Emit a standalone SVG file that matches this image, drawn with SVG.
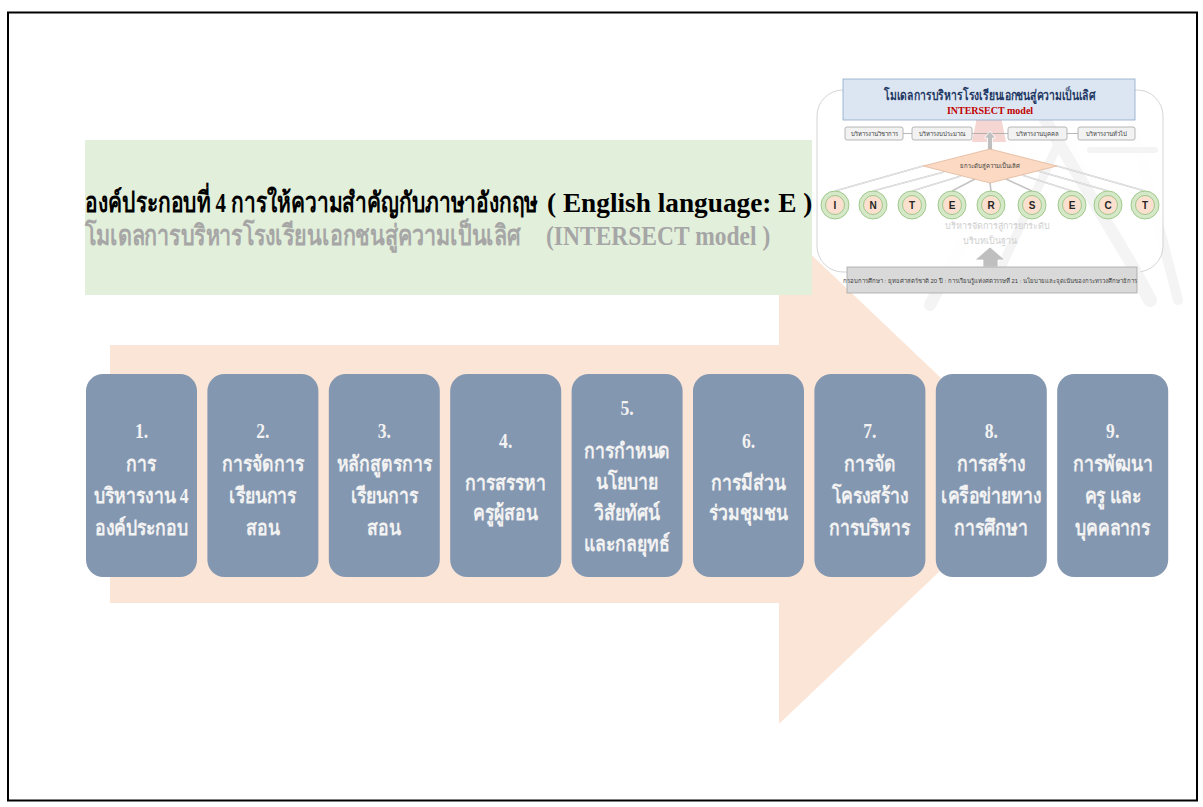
<svg xmlns="http://www.w3.org/2000/svg" width="1203" height="807" viewBox="0 0 1203 807">
  <style>
    .frame { fill: #ffffff; stroke: #000000; stroke-width: 2; }
    .band { fill: #e2efda; }
    .flow { fill: #fbe5d6; }
    .step rect { fill: #8497b0; }
    .step text { font-family: "Liberation Serif", "DejaVu Serif", serif; font-weight: bold; font-size: 21px; fill: #f2f2f2; text-anchor: middle; }
    .h1 { font-family: "Liberation Serif", "DejaVu Serif", serif; font-weight: bold; font-size: 28px; fill: #000000; }
    .h2 { font-family: "Liberation Serif", "DejaVu Serif", serif; font-weight: bold; font-size: 28px; fill: #a6a6a6; }
    .m-title { font-family: "Liberation Serif", "DejaVu Serif", serif; font-weight: bold; font-size: 14px; fill: #1f3864; text-anchor: middle; }
    .m-red { font-family: "Liberation Serif", serif; font-weight: bold; font-size: 10px; fill: #c00000; text-anchor: middle; }
    .m-box { fill: #f2f2f2; stroke: #a6a6a6; stroke-width: 0.8; }
    .m-lbl { font-family: "Liberation Sans", "DejaVu Sans", sans-serif; font-size: 6px; fill: #404040; text-anchor: middle; }
    .m-faint { font-family: "Liberation Sans", "DejaVu Sans", sans-serif; font-size: 9px; fill: #cfcfcf; text-anchor: middle; }
    .ring { fill: #d5e8c8; stroke: #8fbf78; stroke-width: 0.8; }
    .core { fill: #fbe0cf; stroke: #8fbf78; stroke-width: 0.8; }
    .letter { font-family: "Liberation Sans", "DejaVu Sans", sans-serif; font-weight: bold; font-size: 10px; fill: #262626; text-anchor: middle; }
    .spoke { stroke: #c4c4c4; stroke-width: 1.6; fill: none; }
    .spoke-in { stroke: #ffffff; stroke-width: 0.6; fill: none; }
    .link { stroke: #a6a6a6; stroke-width: 0.8; fill: none; }
    .uparrow { fill: #bfbfbf; stroke: #ffffff; stroke-width: 0.8; }
    .mark { stroke: #f4f4f4; fill: none; stroke-linecap: round; }
  </style>

  <!-- page frame -->
  <rect class="frame" x="8" y="12.5" width="1189" height="788"/>

  <!-- large process arrow behind the steps -->
  <polygon class="flow" points="110,345 779,345 779,224 1042,474 779,724 779,603 110,603"/>

  <!-- heading band -->
  <g id="heading">
    <rect class="band" x="85" y="140" width="727" height="155"/>
    <text class="h1" transform="translate(85,212) scale(0.748,1)">องค์ประกอบที่ 4 การให้ความสำคัญกับภาษาอังกฤษ</text>
    <text class="h1" font-size="27" transform="translate(547,212) scale(0.975,1)">( English language: E )</text>
    <text class="h2" transform="translate(85,245) scale(0.768,1)">โมเดลการบริหารโรงเรียนเอกชนสู่ความเป็นเลิศ</text>
    <text class="h2" font-size="27" transform="translate(546,245) scale(0.84,1)">(INTERSECT model )</text>
  </g>

  <!-- INTERSECT model overview panel -->
  <g id="model-panel">
    <!-- faint ladder watermark -->
    <g class="mark">
      <path d="M1040,96 L1150,300" stroke-width="14"/>
      <path d="M1125,96 L1178,300" stroke-width="10"/>
      <path d="M930,305 L1010,150" stroke-width="12"/>
    </g>
    <rect x="817" y="90" width="346" height="182" rx="26" fill="#ffffff" fill-opacity="0.9" stroke="#c9c9c9" stroke-width="0.8"/>
    <g class="mark">
      <path d="M1045,120 L1135,270" stroke-width="12"/>
      <path d="M1000,270 L1060,140" stroke-width="9"/>
      <path d="M1090,150 L1155,150" stroke-width="6"/>
    </g>
    <path d="M978,112 L1000,112 L1006,142 L972,142 Z" fill="#f2c4bf" opacity="0.7"/>

    <g id="model-title">
      <rect x="843" y="79" width="292" height="41" fill="#dce6f2" stroke="#8ea9c8" stroke-width="0.8"/>
      <text class="m-title" transform="translate(990,100) scale(0.74,1)" x="0" y="0">โมเดลการบริหารโรงเรียนเอกชนสู่ความเป็นเลิศ</text>
      <text class="m-red" x="990" y="114">INTERSECT model</text>
    </g>

    <g id="model-connectors">
      <line class="link" x1="903" y1="133.5" x2="912" y2="133.5"/>
      <line class="link" x1="972" y1="133.5" x2="1008" y2="133.5"/>
      <line class="link" x1="1067" y1="133.5" x2="1078" y2="133.5"/>
      <polygon class="uparrow" points="990,131 995.5,138 992.5,138 992.5,150 987.5,150 987.5,138 984.5,138"/>
      <g>
        <line class="spoke" x1="923" y1="166" x2="835" y2="191"/>
        <line class="spoke" x1="944" y1="172" x2="873" y2="191"/>
        <line class="spoke" x1="961" y1="176" x2="912" y2="191"/>
        <line class="spoke" x1="975" y1="179" x2="952" y2="191"/>
        <line class="spoke" x1="990" y1="183" x2="991" y2="191"/>
        <line class="spoke" x1="1006" y1="179" x2="1032" y2="191" stroke="#8c8c8c"/>
        <line class="spoke" x1="1022" y1="175" x2="1072" y2="191"/>
        <line class="spoke" x1="1038" y1="171" x2="1108" y2="191"/>
        <line class="spoke" x1="1057" y1="166" x2="1145" y2="191"/>
        <line class="spoke-in" x1="923" y1="166" x2="835" y2="191"/>
        <line class="spoke-in" x1="944" y1="172" x2="873" y2="191"/>
        <line class="spoke-in" x1="961" y1="176" x2="912" y2="191"/>
        <line class="spoke-in" x1="1022" y1="175" x2="1072" y2="191"/>
        <line class="spoke-in" x1="1038" y1="171" x2="1108" y2="191"/>
        <line class="spoke-in" x1="1057" y1="166" x2="1145" y2="191"/>
      </g>
      <polygon class="uparrow" points="990,247 1005,260 998,260 998,267 983,267 983,260 975,260" fill="#c8c8c8"/>
    </g>

    <g id="model-areas">
      <rect class="m-box" x="845" y="127" width="58" height="13" rx="2"/>
      <text class="m-lbl" x="874" y="135.5">บริหารงานวิชาการ</text>
      <rect class="m-box" x="912" y="127" width="60" height="13" rx="2"/>
      <text class="m-lbl" x="942" y="135.5">บริหารงบประมาณ</text>
      <rect class="m-box" x="1008" y="127" width="59" height="13" rx="2"/>
      <text class="m-lbl" x="1037.5" y="135.5">บริหารงานบุคคล</text>
      <rect class="m-box" x="1078" y="127" width="57" height="13" rx="2"/>
      <text class="m-lbl" x="1106.5" y="135.5">บริหารงานทั่วไป</text>
    </g>

    <g id="model-goal">
      <polygon points="923,166 990,149 1057,166 990,183" fill="#fbd9c2" stroke="#d9a88a" stroke-width="0.6"/>
      <text class="m-lbl" x="990" y="168">ยกระดับสู่ความเป็นเลิศ</text>
    </g>

    <g id="model-letters">
      <circle class="ring" cx="835" cy="205" r="14"/><circle class="core" cx="835" cy="205" r="9.5"/><text class="letter" x="835" y="208.5">I</text>
      <circle class="ring" cx="873" cy="205" r="14"/><circle class="core" cx="873" cy="205" r="9.5"/><text class="letter" x="873" y="208.5">N</text>
      <circle class="ring" cx="912" cy="205" r="14"/><circle class="core" cx="912" cy="205" r="9.5"/><text class="letter" x="912" y="208.5">T</text>
      <circle class="ring" cx="952" cy="205" r="14"/><circle class="core" cx="952" cy="205" r="9.5"/><text class="letter" x="952" y="208.5">E</text>
      <circle class="ring" cx="991" cy="205" r="14"/><circle class="core" cx="991" cy="205" r="9.5"/><text class="letter" x="991" y="208.5">R</text>
      <circle class="ring" cx="1032" cy="205" r="14"/><circle class="core" cx="1032" cy="205" r="9.5"/><text class="letter" x="1032" y="208.5">S</text>
      <circle class="ring" cx="1072" cy="205" r="14"/><circle class="core" cx="1072" cy="205" r="9.5"/><text class="letter" x="1072" y="208.5">E</text>
      <circle class="ring" cx="1108" cy="205" r="14"/><circle class="core" cx="1108" cy="205" r="9.5"/><text class="letter" x="1108" y="208.5">C</text>
      <circle class="ring" cx="1145" cy="205" r="14"/><circle class="core" cx="1145" cy="205" r="9.5"/><text class="letter" x="1145" y="208.5">T</text>
    </g>

    <g id="model-base">
      <text class="m-faint" x="997" y="229">บริหารจัดการสู่การยกระดับ</text>
      <text class="m-faint" x="990" y="244">บริบทเป็นฐาน</text>
    </g>

    <g id="model-frame">
      <rect x="847" y="267" width="290" height="26" fill="#d9d9d9" stroke="#a6a6a6" stroke-width="0.8"/>
      <text class="m-lbl" x="990" y="283" font-size="5.5">กรอบการศึกษา : ยุทธศาสตร์ชาติ 20 ปี : การเรียนรู้แห่งศตวรรษที่ 21 : นโยบายและจุดเน้นของกระทรวงศึกษาธิการ</text>
    </g>
  </g>

  <!-- nine steps -->
  <g id="step-1" class="step">
    <rect x="86" y="374" width="111" height="203" rx="17"/>
    <g transform="translate(141.5,0) scale(0.84,1)">
      <text x="0" y="438">1.</text>
      <text x="0" y="471">การ</text>
      <text x="0" y="503">บริหารงาน 4</text>
      <text x="0" y="535">องค์ประกอบ</text>
    </g>
  </g>
  <g id="step-2" class="step">
    <rect x="207.4" y="374" width="111" height="203" rx="17"/>
    <g transform="translate(262.9,0) scale(0.84,1)">
      <text x="0" y="438">2.</text>
      <text x="0" y="471">การจัดการ</text>
      <text x="0" y="503">เรียนการ</text>
      <text x="0" y="535">สอน</text>
    </g>
  </g>
  <g id="step-3" class="step">
    <rect x="328.8" y="374" width="111" height="203" rx="17"/>
    <g transform="translate(384.3,0) scale(0.84,1)">
      <text x="0" y="438">3.</text>
      <text x="0" y="471">หลักสูตรการ</text>
      <text x="0" y="503">เรียนการ</text>
      <text x="0" y="535">สอน</text>
    </g>
  </g>
  <g id="step-4" class="step">
    <rect x="450.2" y="374" width="111" height="203" rx="17"/>
    <g transform="translate(505.7,0) scale(0.84,1)">
      <text x="0" y="448">4.</text>
      <text x="0" y="490">การสรรหา</text>
      <text x="0" y="520">ครูผู้สอน</text>
    </g>
  </g>
  <g id="step-5" class="step">
    <rect x="571.6" y="374" width="111" height="203" rx="17"/>
    <g transform="translate(627.1,0) scale(0.84,1)">
      <text x="0" y="415">5.</text>
      <text x="0" y="458">การกำหนด</text>
      <text x="0" y="489">นโยบาย</text>
      <text x="0" y="520">วิสัยทัศน์</text>
      <text x="0" y="551">และกลยุทธ์</text>
    </g>
  </g>
  <g id="step-6" class="step">
    <rect x="693" y="374" width="111" height="203" rx="17"/>
    <g transform="translate(748.5,0) scale(0.84,1)">
      <text x="0" y="448">6.</text>
      <text x="0" y="490">การมีส่วน</text>
      <text x="0" y="520">ร่วมชุมชน</text>
    </g>
  </g>
  <g id="step-7" class="step">
    <rect x="814.4" y="374" width="111" height="203" rx="17"/>
    <g transform="translate(869.9,0) scale(0.84,1)">
      <text x="0" y="438">7.</text>
      <text x="0" y="471">การจัด</text>
      <text x="0" y="503">โครงสร้าง</text>
      <text x="0" y="535">การบริหาร</text>
    </g>
  </g>
  <g id="step-8" class="step">
    <rect x="935.8" y="374" width="111" height="203" rx="17"/>
    <g transform="translate(991.3,0) scale(0.84,1)">
      <text x="0" y="438">8.</text>
      <text x="0" y="471">การสร้าง</text>
      <text x="0" y="503">เครือข่ายทาง</text>
      <text x="0" y="535">การศึกษา</text>
    </g>
  </g>
  <g id="step-9" class="step">
    <rect x="1057.2" y="374" width="111" height="203" rx="17"/>
    <g transform="translate(1112.7,0) scale(0.84,1)">
      <text x="0" y="438">9.</text>
      <text x="0" y="471">การพัฒนา</text>
      <text x="0" y="503">ครู และ</text>
      <text x="0" y="535">บุคคลากร</text>
    </g>
  </g>
</svg>
